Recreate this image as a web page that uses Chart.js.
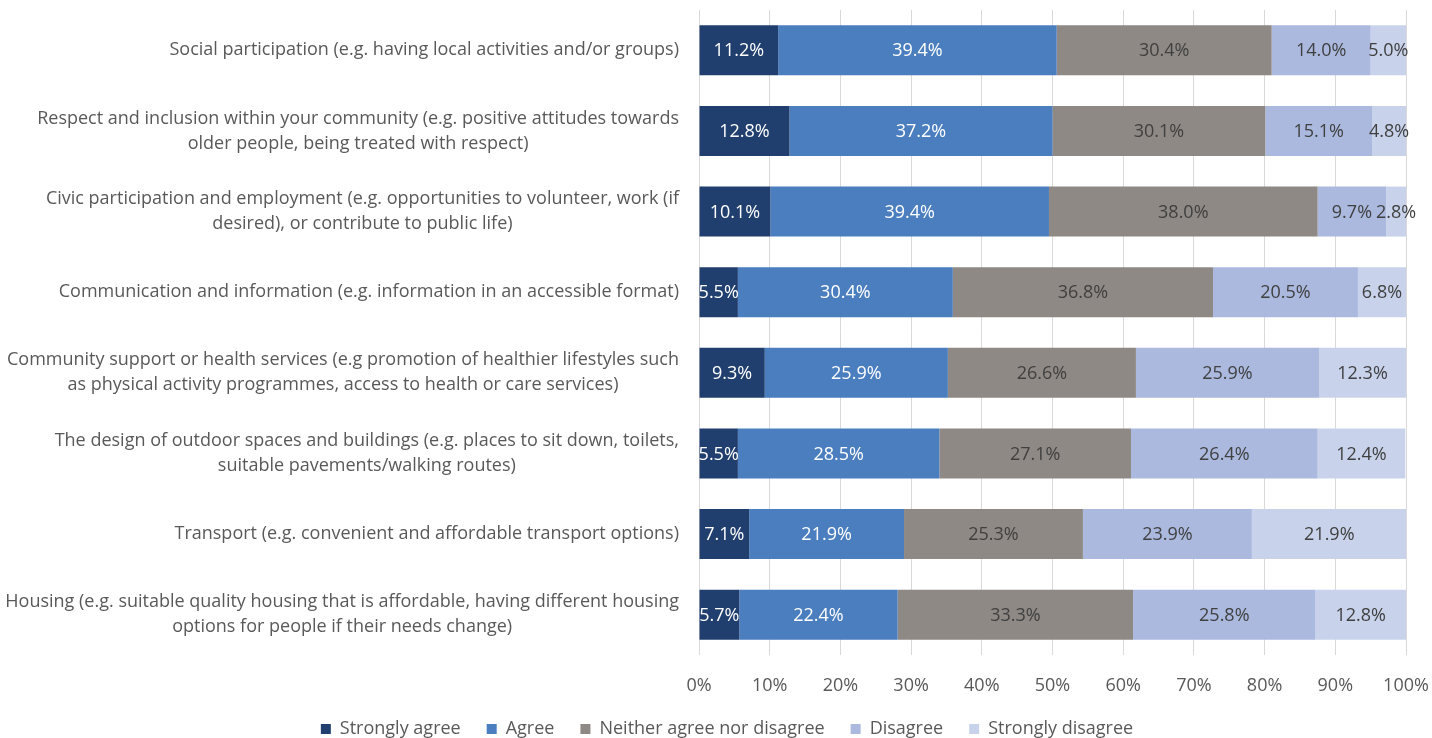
<!DOCTYPE html>
<html>
<head>
  <title>Age-friendly community ratings</title>
  <script src="https://cdn.jsdelivr.net/npm/chart.js"></script>
  <style>
    body { margin: 0; background: #fff; }
    #wrap { width: 1432px; height: 738px; }
  </style>
</head>
<body>
  <div id="wrap"><canvas id="chart" width="1432" height="738"></canvas></div>

  <script>
    const categories = [
      ['Social participation (e.g. having local activities and/or groups)'],
      ['Respect and inclusion within your community (e.g. positive attitudes towards', 'older people, being treated with respect)'],
      ['Civic participation and employment (e.g. opportunities to volunteer, work (if', 'desired), or contribute to public life)'],
      ['Communication and information (e.g. information in an accessible format)'],
      ['Community support or health services (e.g promotion of healthier lifestyles such', 'as physical activity programmes, access to health or care services)'],
      ['The design of outdoor spaces and buildings (e.g. places to sit down, toilets,', 'suitable pavements/walking routes)'],
      ['Transport (e.g. convenient and affordable transport options)'],
      ['Housing (e.g. suitable quality housing that is affordable, having different housing', 'options for people if their needs change)']
    ];

    const seriesNames = ['Strongly agree', 'Agree', 'Neither agree nor disagree', 'Disagree', 'Strongly disagree'];

    const stronglyAgree = [11.2, 12.8, 10.1, 5.5, 9.3, 5.5, 7.1, 5.7];
    const agree = [39.4, 37.2, 39.4, 30.4, 25.9, 28.5, 21.9, 22.4];
    const neither = [30.4, 30.1, 38.0, 36.8, 26.6, 27.1, 25.3, 33.3];
    const disagree = [14.0, 15.1, 9.7, 20.5, 25.9, 26.4, 23.9, 25.8];
    const stronglyDisagree = [5.0, 4.8, 2.8, 6.8, 12.3, 12.4, 21.9, 12.8];

    const colors = ['#203f6e', '#4a7ebf', '#8e8985', '#abb9df', '#c8d3eb'];
    const labelColors = ['#ffffff', '#ffffff', '#404040', '#404040', '#404040'];

    const FONT = '"Open Sans", sans-serif';

    // wrapped category labels: block right-aligned, lines centred inside it
    const catLabels = {
      id: 'catLabels',
      afterDraw(chart) {
        const ctx = chart.ctx;
        const y = chart.scales.y;
        const right = chart.chartArea.left - 20;
        ctx.save();
        ctx.font = '18px ' + FONT;
        ctx.fillStyle = '#595959';
        ctx.textAlign = 'center';
        ctx.textBaseline = 'middle';
        const lh = 25;
        categories.forEach((lines, i) => {
          const w = Math.max(...lines.map(l => ctx.measureText(l).width));
          const cx = right - w / 2;
          const cy = y.getPixelForValue(i);
          lines.forEach((l, j) => {
            ctx.fillText(l, cx, cy + (j - (lines.length - 1) / 2) * lh);
          });
        });
        ctx.restore();
      }
    };

    // value labels in the middle of each segment
    const valueLabels = {
      id: 'valueLabels',
      afterDatasetsDraw(chart) {
        const ctx = chart.ctx;
        ctx.save();
        ctx.font = '18px ' + FONT;
        ctx.textAlign = 'center';
        ctx.textBaseline = 'middle';
        chart.data.datasets.forEach((ds, di) => {
          const meta = chart.getDatasetMeta(di);
          ctx.fillStyle = labelColors[di];
          meta.data.forEach((bar, i) => {
            const cx = (bar.x + bar.base) / 2;
            ctx.fillText(ds.data[i].toFixed(1) + '%', cx, bar.y + 1);
          });
        });
        ctx.restore();
      }
    };

    const allSeries = [stronglyAgree, agree, neither, disagree, stronglyDisagree];

    new Chart(document.getElementById('chart').getContext('2d'), {
      type: 'bar',
      data: {
        labels: categories.map(c => c.join(' ')),
        datasets: allSeries.map((vals, i) => ({
          label: seriesNames[i],
          data: vals,
          backgroundColor: colors[i],
          borderWidth: 0,
          barPercentage: 0.62,
          categoryPercentage: 1
        }))
      },
      options: {
        indexAxis: 'y',
        responsive: false,
        animation: false,
        layout: { padding: { left: 22, right: 0, top: 10, bottom: 0 } },
        scales: {
          x: {
            stacked: true,
            min: 0,
            max: 100,
            border: { display: false },
            grid: { color: '#d9d9d9', drawTicks: false },
            ticks: {
              stepSize: 10,
              padding: 20,
              color: '#595959',
              font: { family: FONT, size: 18 },
              callback: v => v + '%'
            },
            afterFit: s => {
              s.height = 39;
              s.paddingRight = 26;
              s.paddingLeft = 0;
            }
          },
          y: {
            stacked: true,
            border: { display: false },
            grid: { display: false },
            ticks: { display: false },
            afterFit: s => { s.width = 677; }
          }
        },
        plugins: {
          legend: {
            position: 'bottom',
            maxHeight: 44,
            labels: {
              boxWidth: 10,
              boxHeight: 10,
              padding: 26,
              color: '#595959',
              font: { family: FONT, size: 18 }
            }
          },
          tooltip: { enabled: false }
        }
      },
      plugins: [catLabels, valueLabels]
    });
  </script>
</body>
</html>
